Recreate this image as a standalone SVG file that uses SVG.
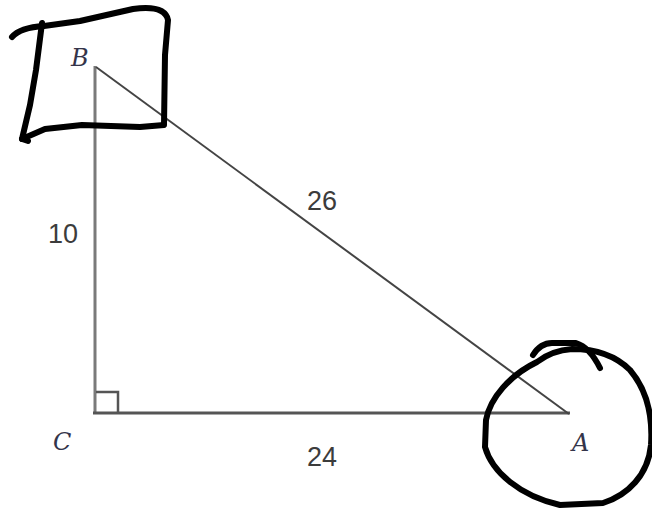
<svg xmlns="http://www.w3.org/2000/svg" width="652" height="509" viewBox="0 0 652 509">
<defs>
<style>
.vlabel{font-family:"DejaVu Serif","Liberation Serif",serif;font-style:italic;font-size:24px;fill:#34344a;}
.num{font-family:"Liberation Sans","DejaVu Sans",sans-serif;font-size:27px;fill:#3c3c3c;}
.ink{fill:none;stroke:#000;stroke-width:6;stroke-linecap:round;stroke-linejoin:round;}
</style>
</defs>
<rect width="652" height="509" fill="#fff"/>
<g id="edges">
<line x1="95" y1="66" x2="95" y2="414" stroke="#7a7a7a" stroke-width="3"/>
<line x1="93" y1="413" x2="570" y2="413" stroke="#555" stroke-width="3"/>
<line x1="96" y1="67" x2="569" y2="414" stroke="#444" stroke-width="2"/>
<polyline points="96,392 118,392 118,413" fill="none" stroke="#555" stroke-width="2.5"/>
</g>
<g id="node-B">
<text class="vlabel" x="71" y="66">B</text>
</g>
<g id="node-C">
<text class="vlabel" x="53" y="450">C</text>
</g>
<g id="node-A">
<text class="vlabel" x="572" y="451">A</text>
</g>
<g id="labels">
<text class="num" x="48" y="243">10</text>
<text class="num" x="307" y="210">26</text>
<text class="num" x="307" y="466">24</text>
</g>
<g id="mark-square">
<path class="ink" d="M12,37 C18,30 28,27 44,26 L80,21 L133,9 C155,6 166,10 168,20 L165,55 L164,125 L140,127 L82,125 L45,129 L22,139"/>
<path class="ink" d="M42,23 L36,70 L30,105 L22,139 L28,141"/>
</g>
<g id="mark-circle">
<path class="ink" d="M533,355 C538,347 545,343 552,343 L576,343 C586,346 594,356 600,368"/>
<path class="ink" d="M537,362 C510,375 490,398 486,420 L485,447 C492,472 520,496 560,505 L603,503 C628,495 648,475 651,445 C653,415 647,390 630,370 C615,355 595,349 572,349 C558,350 546,355 537,362"/>
</g>
</svg>
